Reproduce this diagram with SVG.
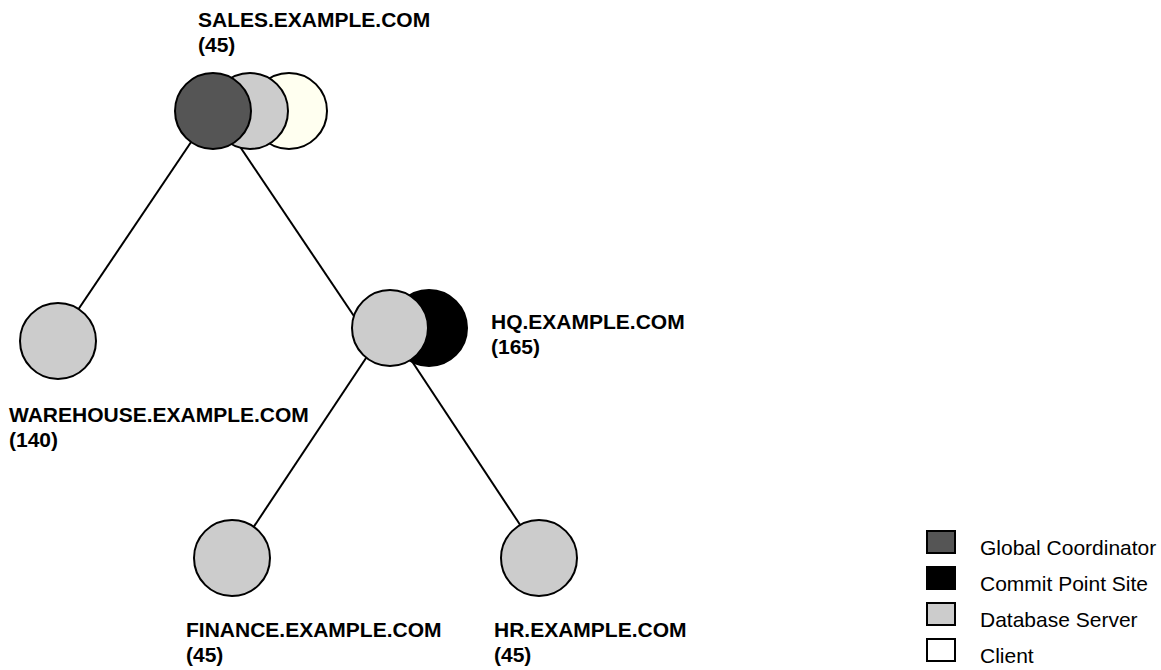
<svg xmlns="http://www.w3.org/2000/svg" width="1161" height="670" viewBox="0 0 1161 670">
<style>
.lbl{font-family:"Liberation Sans",Arial,sans-serif;font-size:21px;font-weight:bold;fill:#000}
.leg{font-family:"Liberation Sans",Arial,sans-serif;font-size:21px;fill:#000}
.c{stroke:#000;stroke-width:2}
.gc{fill:#555555}
.cp{fill:#000000}
.db{fill:#cccccc}
.cl{fill:#fffff0}
.edge{stroke:#000;stroke-width:2;fill:none}
</style>
<rect width="1161" height="670" fill="#ffffff"/>
<g id="connectors">
<line class="edge" x1="212" y1="111" x2="57" y2="341"/>
<line class="edge" x1="216" y1="111" x2="362" y2="328"/>
<line class="edge" x1="386" y1="328" x2="233" y2="558"/>
<line class="edge" x1="390" y1="328" x2="542" y2="558"/>
</g>
<g id="sales">
<circle class="c cl" cx="289" cy="111" r="38"/>
<circle class="c db" cx="250" cy="111" r="38"/>
<circle class="c gc" cx="213" cy="111" r="38"/>
<text class="lbl" x="198" y="27">SALES.EXAMPLE.COM</text>
<text class="lbl" x="198" y="52">(45)</text>
</g>
<g id="warehouse">
<circle class="c db" cx="58" cy="341" r="38"/>
<text class="lbl" x="9" y="422">WAREHOUSE.EXAMPLE.COM</text>
<text class="lbl" x="9" y="447">(140)</text>
</g>
<g id="hq">
<circle class="c cp" cx="429" cy="328" r="38"/>
<circle class="c db" cx="390" cy="328" r="38"/>
<text class="lbl" x="491" y="329">HQ.EXAMPLE.COM</text>
<text class="lbl" x="491" y="354">(165)</text>
</g>
<g id="finance">
<circle class="c db" cx="232" cy="558" r="38"/>
<text class="lbl" x="186" y="637">FINANCE.EXAMPLE.COM</text>
<text class="lbl" x="186" y="662">(45)</text>
</g>
<g id="hr">
<circle class="c db" cx="539" cy="558" r="38"/>
<text class="lbl" x="494" y="637">HR.EXAMPLE.COM</text>
<text class="lbl" x="494" y="662">(45)</text>
</g>
<g id="legend">
<rect class="c gc" x="927" y="531" width="28" height="22"/>
<text class="leg" x="980" y="555">Global Coordinator</text>
<rect class="c cp" x="927" y="567" width="28" height="22"/>
<text class="leg" x="980" y="591">Commit Point Site</text>
<rect class="c db" x="927" y="603" width="28" height="22"/>
<text class="leg" x="980" y="627">Database Server</text>
<rect class="c" fill="#ffffff" x="927" y="639" width="28" height="22"/>
<text class="leg" x="980" y="663">Client</text>
</g>
</svg>
